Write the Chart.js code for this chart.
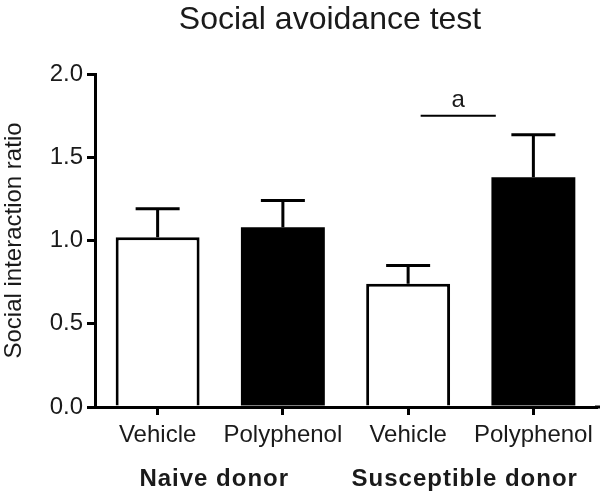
<!DOCTYPE html>
<html>
<head>
<meta charset="utf-8">
<script src="https://cdn.jsdelivr.net/npm/chart.js@4/dist/chart.umd.min.js"></script>
<style>
  html, body { margin: 0; padding: 0; background: #fff; }
  #wrap { width: 600px; height: 497px; }
</style>
</head>
<body>
<div id="wrap"><canvas id="myChart" width="600" height="497"></canvas></div>
<script>
const title = 'Social avoidance test';
const categories = ['Vehicle', 'Polyphenol', 'Vehicle', 'Polyphenol'];
const groups = ['Naive donor', 'Susceptible donor'];
const means = [1.02, 1.08, 0.74, 1.38];
const sem = [0.17, 0.16, 0.11, 0.255];
const fills = ['#ffffff', '#000000', '#ffffff', '#000000'];
const yTicks = [0, 0.5, 1.0, 1.5, 2.0];
// significance bar between the susceptible groups
const sigSpan = [2.1, 2.7];
const sigLevel = 1.75;
const sigLabel = 'a';

const FONT = "'Liberation Sans', Arial, sans-serif";
const INK = '#1a1a1a';

const catPx = (scale, v) => {
    const i = Math.floor(v);
    const a = scale.getPixelForValue(i);
    const b = scale.getPixelForValue(i + 1);
    return a + (b - a) * (v - i);
};

const extrasPlugin = {
    id: 'extras',
    afterDatasetsDraw(chart) {
        const ctx = chart.ctx;
        const x = chart.scales.x;
        const y = chart.scales.y;
        ctx.save();
        ctx.strokeStyle = '#000';
        ctx.lineWidth = 3;
        means.forEach((m, i) => {
            const cx = x.getPixelForValue(i);
            const top = y.getPixelForValue(m);
            const end = y.getPixelForValue(m + sem[i]);
            ctx.beginPath();
            ctx.moveTo(cx, top);
            ctx.lineTo(cx, end);
            ctx.moveTo(cx - 22, end);
            ctx.lineTo(cx + 22, end);
            ctx.stroke();
        });
        // x axis line runs on to the canvas edge
        const base = y.getPixelForValue(0);
        ctx.beginPath();
        ctx.moveTo(chart.chartArea.right - 1, base);
        ctx.lineTo(chart.width, base);
        ctx.stroke();
        // significance line
        const sy = y.getPixelForValue(sigLevel);
        const x1 = catPx(x, sigSpan[0]);
        const x2 = catPx(x, sigSpan[1]);
        ctx.lineWidth = 2;
        ctx.beginPath();
        ctx.moveTo(x1, sy);
        ctx.lineTo(x2, sy);
        ctx.stroke();
        ctx.fillStyle = INK;
        ctx.font = '24px ' + FONT;
        ctx.textAlign = 'center';
        ctx.textBaseline = 'bottom';
        ctx.fillText(sigLabel, (x1 + x2) / 2, sy - 3);
        ctx.restore();
    },
    afterDraw(chart) {
        const ctx = chart.ctx;
        const x = chart.scales.x;
        ctx.save();
        ctx.fillStyle = INK;
        ctx.textAlign = 'center';
        ctx.font = '32px ' + FONT;
        ctx.textBaseline = 'alphabetic';
        ctx.fillText(title, 330, 29);
        ctx.font = 'bold 24px ' + FONT;
        ctx.letterSpacing = '1px';
        ctx.textBaseline = 'middle';
        groups.forEach((g, k) => {
            const cx = (x.getPixelForValue(2 * k) + x.getPixelForValue(2 * k + 1)) / 2;
            ctx.fillText(g, cx - 6, 479);
        });
        ctx.restore();
    }
};

const ctx = document.getElementById('myChart');
new Chart(ctx, {
    type: 'bar',
    data: {
        labels: categories,
        datasets: [{
            data: means,
            backgroundColor: fills,
            borderColor: '#000',
            borderWidth: [3, 0, 3, 0],
            barPercentage: 0.67,
            categoryPercentage: 1.0
        }]
    },
    options: {
        responsive: false,
        animation: false,
        layout: { padding: { top: 74, right: 4, bottom: 0, left: 0 } },
        plugins: {
            legend: { display: false },
            tooltip: { enabled: false },
            title: { display: false }
        },
        scales: {
            x: {
                offset: true,
                afterFit(s) { s.height = 90; },
                grid: { offset: false, drawOnChartArea: false, tickLength: 8, lineWidth: 3, color: '#000' },
                border: { color: '#000', width: 3 },
                ticks: { color: INK, padding: 6, font: { family: FONT, size: 24 } }
            },
            y: {
                min: 0,
                max: 2,
                afterFit(s) { s.width = 95; },
                afterBuildTicks(s) { s.ticks = yTicks.map(v => ({ value: v })); },
                grid: { drawOnChartArea: false, tickLength: 8, lineWidth: 3, color: '#000' },
                border: { color: '#000', width: 3 },
                ticks: {
                    color: INK,
                    padding: 4,
                    font: { family: FONT, size: 24 },
                    callback: v => Number(v).toFixed(1)
                },
                title: {
                    display: true,
                    text: 'Social interaction ratio',
                    color: INK,
                    font: { family: FONT, size: 24 },
                    padding: 0
                }
            }
        }
    },
    plugins: [extrasPlugin]
});
</script>
</body>
</html>
